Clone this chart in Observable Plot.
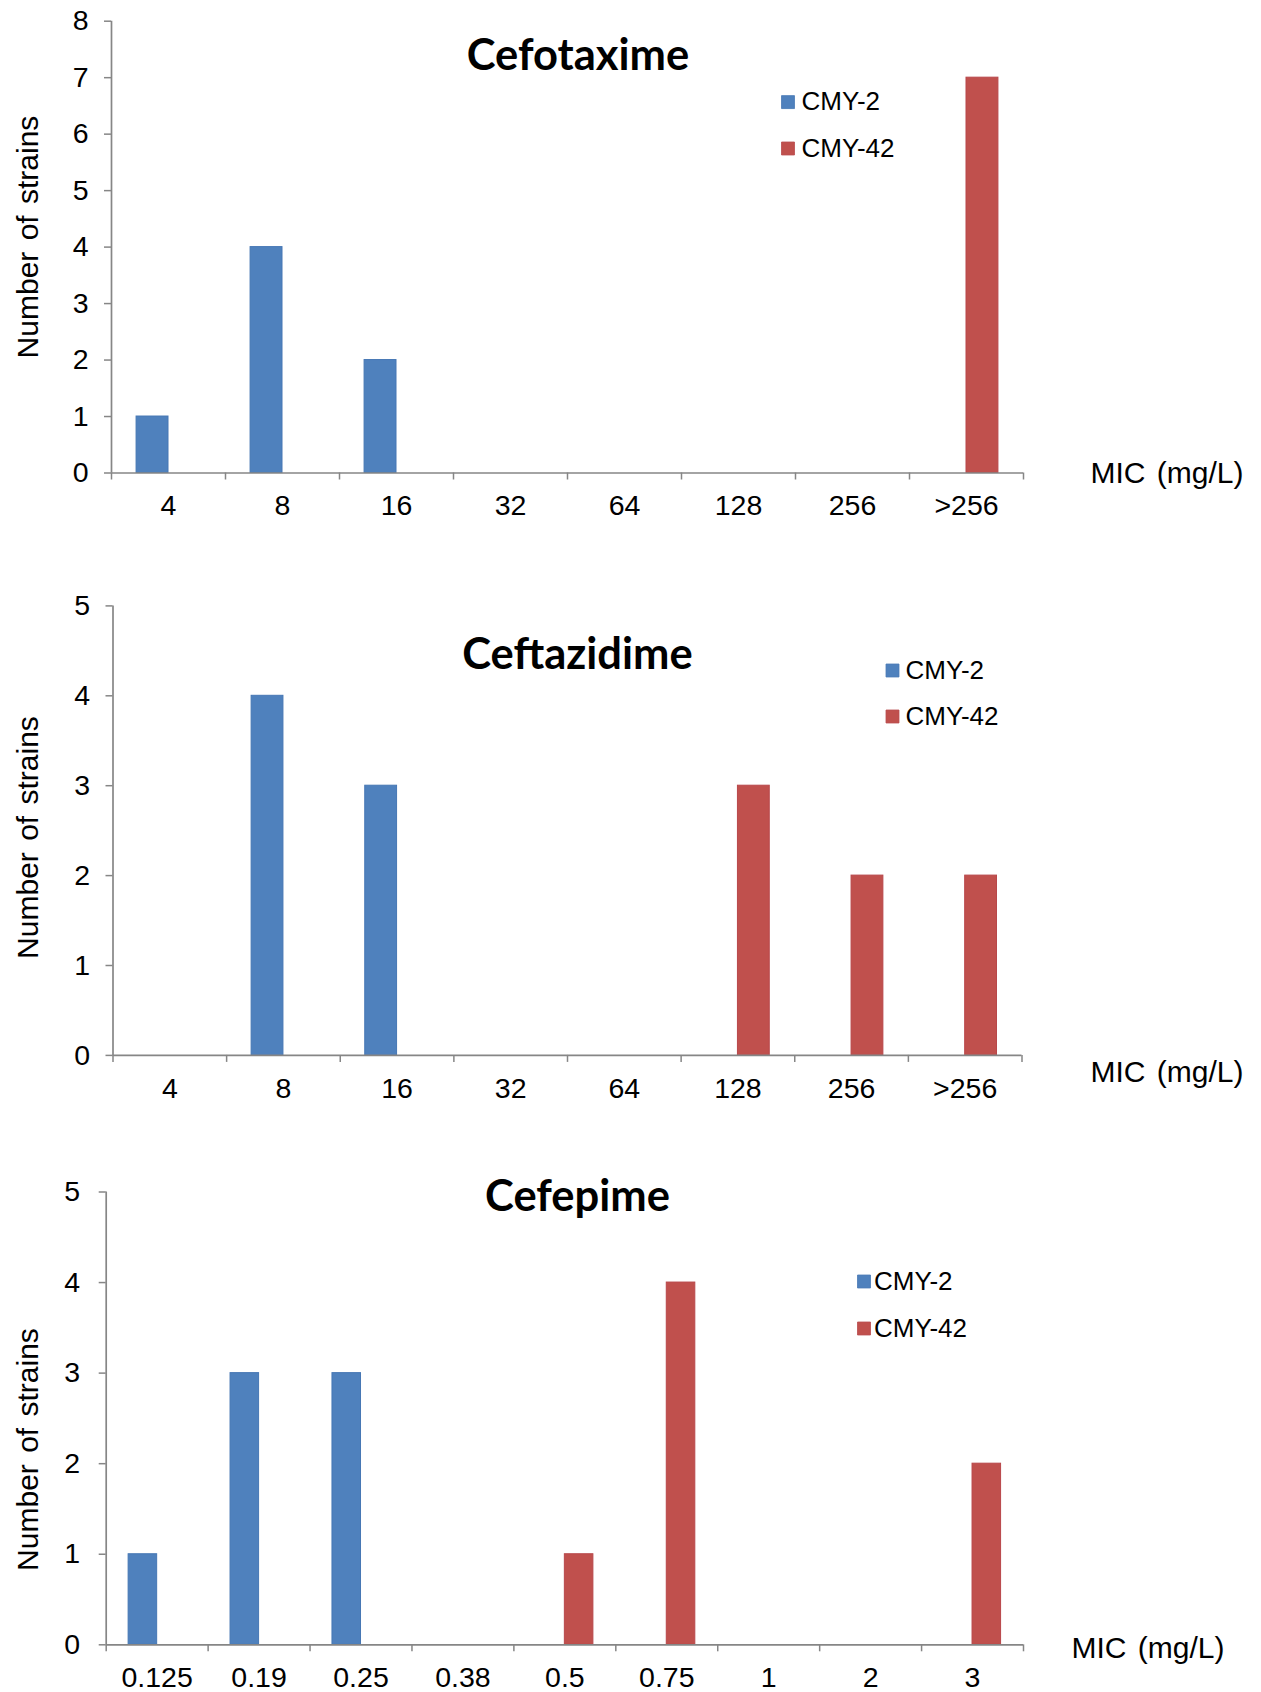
<!DOCTYPE html>
<html>
<head>
<meta charset="utf-8">
<script src="https://cdn.jsdelivr.net/npm/d3@7"></script>
<script src="https://cdn.jsdelivr.net/npm/@observablehq/plot@0.6"></script>
<style>
  html, body { margin: 0; padding: 0; background: #fff; }
  #root { position: relative; width: 1261px; height: 1692px; overflow: hidden; background: #fff; }
  .panel { position: absolute; left: 0; width: 1261px; }
  .panel svg { overflow: visible; display: block; }
  .panel svg .axis-label text { word-spacing: 3px; }
</style>
</head>
<body>
<div id="root"></div>
<script>
// ---------- data ----------
const seriesNames = ["CMY-2", "CMY-42"];
const seriesColors = ["#4F81BD", "#C0504D"];
const seriesStrokes = ["#4677B4", "#B8474A"];

const titles = ["Cefotaxime", "Ceftazidime", "Cefepime"];
const xAxisLabel = "MIC (mg/L)";
const yAxisLabel = "Number of strains";

const cefotaximeMIC = ["4", "8", "16", "32", "64", "128", "256", ">256"];
const cefotaximeCMY2 = [1, 4, 2, 0, 0, 0, 0, 0];
const cefotaximeCMY42 = [0, 0, 0, 0, 0, 0, 0, 7];
const cefotaximeYTicks = [0, 1, 2, 3, 4, 5, 6, 7, 8];

const ceftazidimeMIC = ["4", "8", "16", "32", "64", "128", "256", ">256"];
const ceftazidimeCMY2 = [0, 4, 3, 0, 0, 0, 0, 0];
const ceftazidimeCMY42 = [0, 0, 0, 0, 0, 3, 2, 2];
const ceftazidimeYTicks = [0, 1, 2, 3, 4, 5];

const cefepimeMIC = ["0.125", "0.19", "0.25", "0.38", "0.5", "0.75", "1", "2", "3"];
const cefepimeCMY2 = [1, 3, 3, 0, 0, 0, 0, 0, 0];
const cefepimeCMY42 = [0, 0, 0, 0, 1, 4, 0, 0, 2];
const cefepimeYTicks = [0, 1, 2, 3, 4, 5];

// ---------- layout (pixels) ----------
const W = 1261;
const axisColor = "#868686";
const layouts = [
  {svgTop: 0, height: 560, ml: 111, mr: 238, mt: 20.7, mb: 87.5,
   titleX: 577.5, titleY: 69.5, legSqX: 787.5, legTextX: 801, legY: [101.6, 148],
   micX: 1090, micY: 473, yLabX: 28, yLabY: 236.5, yTickPad: 16},
  {svgTop: 560, height: 560, ml: 112.5, mr: 239.5, mt: 45.4, mb: 65.1,
   titleX: 577, titleY: 668.6, legSqX: 892, legTextX: 905, legY: [670, 716],
   micX: 1090, micY: 1072, yLabX: 28, yLabY: 837, yTickPad: 16},
  {svgTop: 1120, height: 572, ml: 105.7, mr: 238, mt: 71.5, mb: 47.7,
   titleX: 577, titleY: 1210.5, legSqX: 863.5, legTextX: 873.5, legY: [1281, 1328],
   micX: 1071, micY: 1648, yLabX: 28, yLabY: 1449, yTickPad: 19}
];
const titleFont = {fontFamily: "Lato, 'Open Sans', sans-serif", fontSize: 43.5, fontWeight: "bold"};
const tickFontSize = 28.5;
const legendFontSize = 26;
const labelFontSize = 30;

const panels = [
  {title: titles[0], mic: cefotaximeMIC, s: [cefotaximeCMY2, cefotaximeCMY42], yTicks: cefotaximeYTicks},
  {title: titles[1], mic: ceftazidimeMIC, s: [ceftazidimeCMY2, ceftazidimeCMY42], yTicks: ceftazidimeYTicks},
  {title: titles[2], mic: cefepimeMIC, s: [cefepimeCMY2, cefepimeCMY42], yTicks: cefepimeYTicks}
];

function makePanel(p, L) {
  const rows = [];
  p.mic.forEach((m, i) => {
    seriesNames.forEach((name, k) => rows.push({mic: m, series: name, n: p.s[k][i]}));
  });
  const plotW = W - L.ml - L.mr;
  const bw = plotW / p.mic.length;
  const half = bw / 2;
  const barW = bw * 0.28;
  const yMax = p.yTicks[p.yTicks.length - 1];
  const at = (x, y) => ({frameAnchor: "top-left", dx: x - L.ml, dy: y - L.svgTop - L.mt});

  const marks = [];
  seriesNames.forEach((name, k) => {
    marks.push(Plot.barY(rows.filter(d => d.series === name && d.n > 0), {
      x: "mic", y: "n", fill: "series", stroke: seriesStrokes[k], strokeWidth: 1,
      insetLeft: k === 0 ? half - barW : half,
      insetRight: k === 0 ? half : half - barW
    }));
  });
  marks.push(
    Plot.ruleY([0], {stroke: axisColor, strokeWidth: 1.7}),
    Plot.ruleX([p.mic[0]], {y1: 0, y2: yMax, dx: -half, stroke: axisColor, strokeWidth: 1.7}),
    Plot.axisY({ticks: p.yTicks, tickSize: 7, tickPadding: L.yTickPad, stroke: axisColor, strokeWidth: 1.5,
                fill: "#000", fontSize: tickFontSize, tickFormat: d => String(d), label: null}),
    Plot.axisX({tickSize: 7, tickFormat: () => "", dx: -half, stroke: axisColor, strokeWidth: 1.5, label: null}),
    Plot.axisX([p.mic[p.mic.length - 1]], {tickSize: 7, tickFormat: () => "", dx: half, stroke: axisColor, strokeWidth: 1.5, label: null}),
    Plot.axisX({tickSize: 0, tickPadding: 22, fill: "#000", fontSize: tickFontSize, label: null}),
    Plot.text([p.title], {...at(L.titleX, L.titleY), text: d => d, textAnchor: "middle", lineAnchor: "bottom",
                          fill: "#000", ...titleFont}),
    Plot.text([xAxisLabel], {...at(L.micX, L.micY), text: d => d, textAnchor: "start", lineAnchor: "middle",
                             fill: "#000", fontSize: labelFontSize, className: "axis-label"}),
    Plot.text([yAxisLabel], {...at(L.yLabX, L.yLabY), text: d => d, textAnchor: "middle", lineAnchor: "middle",
                             rotate: -90, fill: "#000", fontSize: labelFontSize, className: "axis-label"})
  );
  seriesNames.forEach((name, k) => {
    marks.push(
      Plot.dot([name], {...at(L.legSqX, L.legY[k]), symbol: "square", r: 7.3, fill: seriesColors[k], stroke: seriesStrokes[k], strokeWidth: 0.8}),
      Plot.text([name], {...at(L.legTextX, L.legY[k]), text: d => d, textAnchor: "start", lineAnchor: "middle",
                         fill: "#000", fontSize: legendFontSize})
    );
  });

  return Plot.plot({
    width: W, height: L.height,
    marginLeft: L.ml, marginRight: L.mr, marginTop: L.mt, marginBottom: L.mb,
    x: {type: "band", domain: p.mic, padding: 0, round: false, label: null},
    y: {domain: [0, yMax], label: null},
    color: {domain: seriesNames, range: seriesColors},
    style: {fontFamily: "'Liberation Sans', Arial, sans-serif", fontSize: "27px", color: "#000", background: "transparent", overflow: "visible"},
    marks
  });
}

const root = document.getElementById("root");
panels.forEach((p, i) => {
  const L = layouts[i];
  const div = document.createElement("div");
  div.className = "panel";
  div.style.top = L.svgTop + "px";
  div.style.height = L.height + "px";
  div.appendChild(makePanel(p, L));
  root.appendChild(div);
});
</script>
</body>
</html>
